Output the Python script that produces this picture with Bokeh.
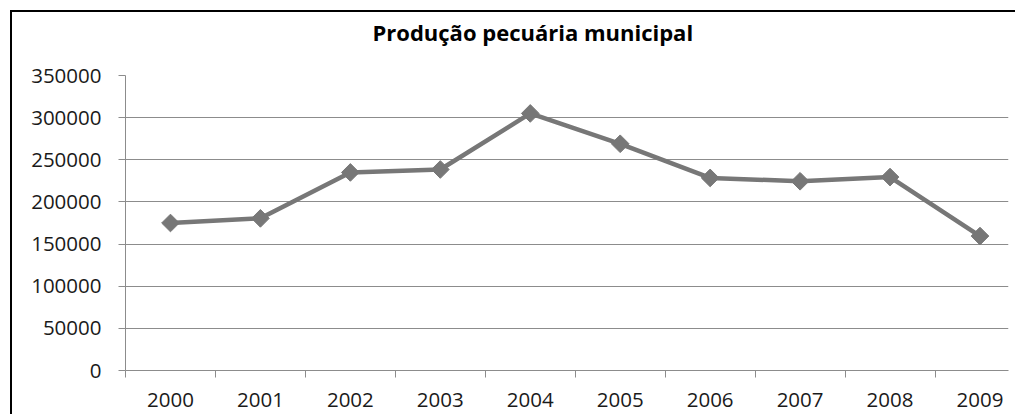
import math
from bokeh.plotting import figure
from bokeh.models import Range1d, FixedTicker, Title
from bokeh.embed import file_html
from bokeh.resources import INLINE

years = ["2000", "2001", "2002", "2003", "2004", "2005", "2006", "2007", "2008", "2009"]
values = [175000, 180500, 235000, 238500, 305000, 269000, 228500, 224500, 229500, 159500]
y_ticks = [0, 50000, 100000, 150000, 200000, 250000, 300000, 350000]
title_text = "Produção pecuária municipal"

xs = list(range(len(years)))

p = figure(
    width=1005, height=404,
    output_backend="svg", toolbar_location=None,
    x_range=Range1d(-0.5, 9.317), y_range=Range1d(0, 350000),
    min_border_left=113, min_border_right=9, min_border_top=63, min_border_bottom=46,
    title=None,
)
p.styles = {"margin-left": "10px", "margin-top": "10px",
            "border-left": "2px solid black", "border-top": "2px solid black"}
p.outline_line_color = None
p.background_fill_color = "white"
p.border_fill_color = "white"

# empty spacer panel between the title and the plot area
spacer = Title(text="\u00a0", text_font_size="2px", standoff=20)
p.add_layout(spacer, "above")
t = Title(text=title_text, align="left", offset=247, vertical_align="top", standoff=6,
          text_font="Open Sans", text_font_style="bold",
          text_font_size="22px", text_color="black")
p.add_layout(t, "above")

FONT = "Open Sans"
# x axis
p.xaxis.ticker = FixedTicker(ticks=xs, minor_ticks=[i - 0.5 for i in range(len(years) + 1)])
p.xaxis.major_label_overrides = {i: y for i, y in enumerate(years)}
p.xaxis.major_tick_out = 0
p.xaxis.major_tick_in = 0
p.xaxis.minor_tick_out = 7
p.xaxis.minor_tick_in = 0
p.xaxis.minor_tick_line_color = "#8c8c8c"
p.xaxis.axis_line_color = "#8c8c8c"
p.xaxis.major_label_text_font = FONT
p.xaxis.major_label_text_font_size = "20.5px"
p.xaxis.major_label_text_color = "#1a1a1a"
p.xaxis.major_label_standoff = 15

# y axis
p.yaxis.ticker = FixedTicker(ticks=y_ticks)
p.yaxis.formatter.use_scientific = False
p.yaxis.major_tick_out = 7
p.yaxis.major_tick_in = 0
p.yaxis.minor_tick_line_color = None
p.yaxis.major_tick_line_color = "#8c8c8c"
p.yaxis.axis_line_color = "#8c8c8c"
p.yaxis.major_label_text_font = FONT
p.yaxis.major_label_text_font_size = "20.5px"
p.yaxis.major_label_text_color = "#1a1a1a"
p.yaxis.major_label_standoff = 17

p.xgrid.grid_line_color = None
p.ygrid.ticker = FixedTicker(ticks=y_ticks)
p.ygrid.grid_line_color = "#8c8c8c"
p.ygrid.grid_line_width = 1

p.line(xs, values, line_color="#777777", line_width=4.5)
p.scatter(xs, values, marker="square", size=12.5, angle=math.pi / 4,
          fill_color="#777777", line_color="#777777")

open("out.html", "w").write(file_html(p, INLINE))
